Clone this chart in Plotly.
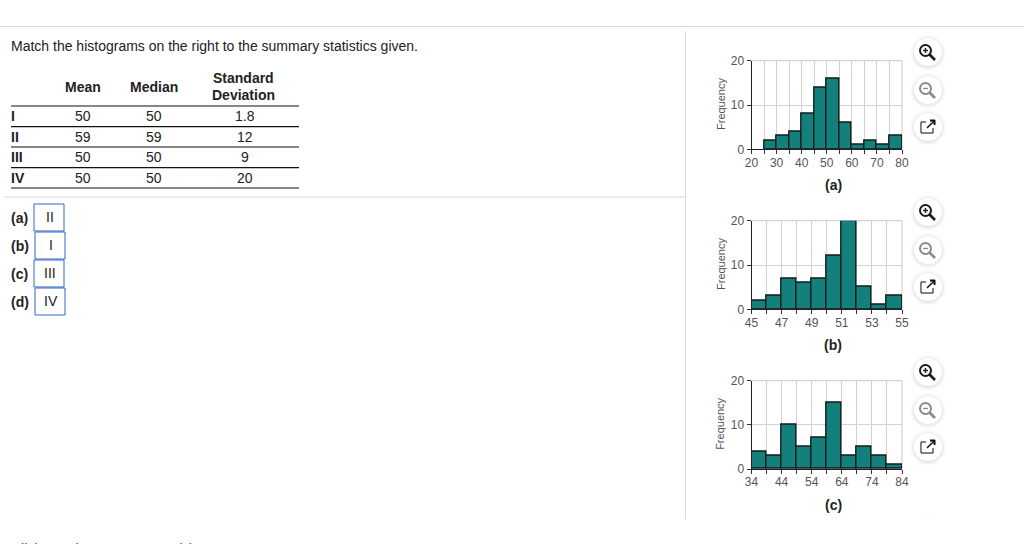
import plotly.graph_objects as go

W, H = 1024, 544
FONT = "Liberation Sans"
TEAL = "#14807c"
EDGE = "#111c1c"
GRID = "#d2d2d2"
GREY_TEXT = "#555555"

table_columns = ["Mean", "Median"]
row_labels = ["I", "II", "III", "IV"]
means = ["50", "59", "50", "50"]
medians = ["50", "59", "50", "50"]
std_devs = ["1.8", "12", "9", "20"]
answer_labels = ["(a)", "(b)", "(c)", "(d)"]
answers = ["II", "I", "III", "IV"]

freq_a = [2, 3, 4, 8, 14, 16, 6, 1, 2, 1, 3]
bins_a = [25, 30, 35, 40, 45, 50, 55, 60, 65, 70, 75]
ticks_a = [20, 25, 30, 35, 40, 45, 50, 55, 60, 65, 70, 75, 80]
labels_a = ["20", "", "30", "", "40", "", "50", "", "60", "", "70", "", "80"]

freq_b = [2, 3, 7, 6, 7, 12, 20, 5, 1, 3]
bins_b = [45, 46, 47, 48, 49, 50, 51, 52, 53, 54]
ticks_b = [45, 46, 47, 48, 49, 50, 51, 52, 53, 54, 55]
labels_b = ["45", "", "47", "", "49", "", "51", "", "53", "", "55"]

freq_c = [4, 3, 10, 5, 7, 15, 3, 5, 3, 1]
bins_c = [34, 39, 44, 49, 54, 59, 64, 69, 74, 79]
ticks_c = [34, 39, 44, 49, 54, 59, 64, 69, 74, 79, 84]
labels_c = ["34", "", "44", "", "54", "", "64", "", "74", "", "84"]

freq_ticks = [0, 10, 20]
freq_labels = ["0", "10", "20"]

charts = [
    ("(a)", bins_a, freq_a, 5, ticks_a, labels_a, 60.7, 149.3),
    ("(b)", bins_b, freq_b, 1, ticks_b, labels_b, 220.7, 309.3),
    ("(c)", bins_c, freq_c, 5, ticks_c, labels_c, 380.7, 469.0),
]


def px(x):
    return x / W


def py(y):
    return 1 - y / H


def text(x, y, s, size=14, bold=False, color="#222222", anchor="center", angle=0):
    return dict(
        x=px(x - 2 if anchor == "left" else x), y=py(y), xref="paper", yref="paper",
        text=f"<b>{s}</b>" if bold else s,
        showarrow=False, xanchor=anchor, yanchor="middle", textangle=angle,
        font=dict(family=FONT, size=size, color=color),
    )


def line(x0, y0, x1, y1, color, width=1):
    return dict(type="line", xref="paper", yref="paper", x0=px(x0), y0=py(y0), x1=px(x1), y1=py(y1),
                line=dict(color=color, width=width))


def circle(cx, cy, r, fill, edge=None, width=0):
    return dict(type="circle", xref="paper", yref="paper",
                x0=px(cx - r), x1=px(cx + r), y0=py(cy + r), y1=py(cy - r),
                fillcolor=fill, line=dict(color=edge or "rgba(0,0,0,0)", width=width))


def button(cx, cy):
    # soft shadow, sits a little lower than the white disc
    out = [circle(cx, cy + 0.8, r, "rgba(0,0,0,0.014)") for r in (18, 17, 16, 15.5, 15, 14.5)]
    out.append(circle(cx, cy, 14, "white"))
    return out


def magnifier(cx, cy, color, plus):
    out = [line(cx + 2, cy + 2, cx + 8, cy + 8, color, 2.6),
           circle(cx - 1.5, cy - 1.5, 5.5, "white", color, 2),
           line(cx - 4, cy - 1.5, cx + 1, cy - 1.5, color, 1.4)]
    if plus:
        out.append(line(cx - 1.5, cy - 4, cx - 1.5, cy + 1, color, 1.4))
    return out


def popout(cx, cy):
    c = "#333333"
    return [line(cx - 2, cy - 5, cx - 7, cy - 5, c, 1.2), line(cx - 7, cy - 5, cx - 7, cy + 6, c, 1.2),
            line(cx - 7, cy + 6, cx + 5, cy + 6, c, 1.2), line(cx + 5, cy + 6, cx + 5, cy + 1, c, 1.2),
            line(cx - 1, cy + 1, cx + 6, cy - 6, "#111111", 1.4),
            line(cx + 2, cy - 6.5, cx + 7, cy - 6.5, "#111111", 2),
            line(cx + 6.5, cy - 7, cx + 6.5, cy - 2, "#111111", 2)]


fig = go.Figure()
annotations = []
shapes = []

# page furniture
shapes.append(line(0, 26.5, 1024, 26.5, "#d6dbe6", 1))
shapes.append(line(685.5, 31, 685.5, 519, "#dcdcdc", 1))
shapes.append(line(4, 197, 685, 197, "#e1e5ea", 1.5))
annotations.append(text(11, 46, "Match the histograms on the right to the summary statistics given.", anchor="left"))
annotations.append(text(11, 549, "Click to select your answer(s).", anchor="left", color="#444444"))

# summary table
annotations.append(text(83, 87, table_columns[0], bold=True))
annotations.append(text(154, 87, table_columns[1], bold=True))
annotations.append(text(243, 78, "Standard", bold=True))
annotations.append(text(243, 95, "Deviation", bold=True))
for y in (106, 126.7, 147, 167.7, 188):
    shapes.append(line(11, y, 299, y, "#111111", 1.2))
for i, y in enumerate((116, 137, 157, 178)):
    annotations.append(text(11, y, row_labels[i], bold=True, anchor="left"))
    annotations.append(text(83, y, means[i]))
    annotations.append(text(154, y, medians[i]))
    annotations.append(text(245, y, std_devs[i]))

# answer boxes
boxes = [(34, 204), (35, 232), (34, 260), (35, 288)]
for (bx, by), lab, ans in zip(boxes, answer_labels, answers):
    shapes.append(dict(type="rect", xref="paper", yref="paper", x0=px(bx), x1=px(bx + 30),
                       y0=py(by + 27), y1=py(by), line=dict(color="#2f66cc", width=1)))
    annotations.append(text(11, by + 14, lab, bold=True, anchor="left"))
    annotations.append(text(bx + 16, by + 13, ans, color="#222222"))

# histograms
for i, (name, bins, freq, width, ticks, labels, top, bottom) in enumerate(charts):
    suffix = "" if i == 0 else str(i + 1)
    fig.add_trace(go.Bar(x=bins, y=freq, width=width, offset=0, xaxis=f"x{suffix}", yaxis=f"y{suffix}",
                         marker=dict(color=TEAL, line=dict(color=EDGE, width=1.4)),
                         cliponaxis=False, showlegend=False))
    fig.update_layout({
        f"xaxis{suffix}": dict(
            domain=[px(751.5), px(902)], anchor=f"y{suffix}", range=[ticks[0], ticks[-1]],
            tickmode="array", tickvals=ticks, ticktext=labels, ticks="outside", ticklen=4,
            ticklabelstandoff=-2,
            tickcolor="#333333", showline=True, linecolor="#222222", linewidth=1,
            showgrid=True, gridcolor=GRID, gridwidth=1.2, zeroline=False, tickangle=0,
            tickfont=dict(family=FONT, size=12, color=GREY_TEXT)),
        f"yaxis{suffix}": dict(
            domain=[py(bottom), py(top)], anchor=f"x{suffix}", range=[0, 20],
            tickmode="array", tickvals=freq_ticks, ticktext=freq_labels, ticks="outside", ticklen=4,
            tickcolor="#333333", showline=True, linecolor="#222222", linewidth=1,
            showgrid=True, gridcolor=GRID, gridwidth=1.2, zeroline=False,
            tickfont=dict(family=FONT, size=12, color=GREY_TEXT)),
    })
    # plotly leaves out gridlines sitting on the range ends
    shapes.append(dict(line(751.5, top, 902, top, GRID, 1.2), layer="below"))
    shapes.append(dict(line(902, top, 902, bottom, GRID, 1.2), layer="below"))
    annotations.append(text(720.5, (top + bottom) / 2 - 0.5, "Frequency", size=11, color=GREY_TEXT, angle=-90))
    annotations.append(text(833, bottom + 35.5, name, size=14, bold=True))

    ys = [top - 8.7, top + 29.3, top + 66.3]
    for y in ys:
        shapes.extend(button(928, y))
    shapes.extend(magnifier(927, ys[0], "#1c1c1c", True))
    shapes.extend(magnifier(927, ys[1], "#8a8a8a", False))
    shapes.extend(popout(928, ys[2]))

# next button down is cut off by the panel edge, only its shadow shows
shapes.extend(button(928, 535))
shapes.append(dict(type="rect", xref="paper", yref="paper", x0=px(905), x1=px(950), y0=py(544), y1=py(519),
                   fillcolor="white", line=dict(width=0)))

fig.update_layout(
    width=W, height=H, margin=dict(l=0, r=0, t=0, b=0, autoexpand=False), autosize=False,
    paper_bgcolor="white", plot_bgcolor="white", bargap=0,
    annotations=annotations, shapes=shapes,
)

fig.write_html("out.html", config={"displayModeBar": False}, post_script="document.body.style.margin = '0';")
